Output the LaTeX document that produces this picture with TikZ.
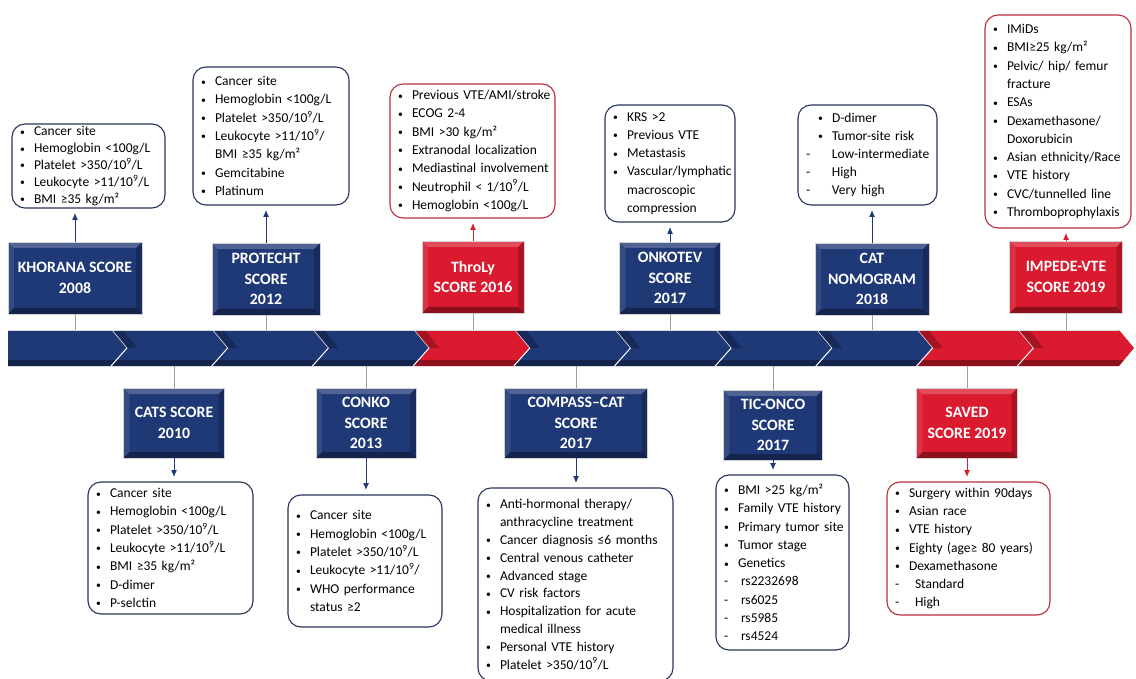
\documentclass[tikz,border=0pt]{standalone}
\usepackage{fontspec}
\usepackage{graphicx}
\setmainfont{Carlito}
\usetikzlibrary{calc,arrows.meta}
\definecolor{navy}{RGB}{31,56,118}
\definecolor{tred}{RGB}{218,26,46}
\definecolor{bnavy}{RGB}{40,52,90}
\definecolor{bred}{RGB}{185,45,60}
\definecolor{cgrey}{RGB}{160,160,160}
\newcommand\smb{\raisebox{0.6pt}{\scalebox{0.72}{\textbullet}}}
\newcommand\bi[1]{\mbox{\makebox[14pt][l]{\smb}#1}}
\newcommand\ci[1]{\mbox{\hspace*{14pt}#1}}
\newcommand\di[2][14]{\mbox{\makebox[#1pt][l]{-}#2}}
\newcommand\nn{10\textsuperscript{9}}
\newcommand\lbox[7]{%
 \pgfmathsetmacro\bw{#4-#2}\pgfmathsetmacro\bh{#5-#3}\pgfmathsetmacro\tw{#4-#2-16}%
 \node[#6, anchor=north west, minimum width=\bw pt, minimum height=\bh pt, text width=\tw pt] (#1) at (#2,#3) {#7};}
\newcommand\tbox[7]{%
 \node[title, fill=#6, minimum width=#4pt, minimum height=#5pt] (#1) at (#2,#3) {#7};
 \fill[white,opacity=.22] (#1.north west) -- (#1.north east) -- ($(#1.north east)+(-6,6)$) -- ($(#1.north west)+(6,6)$) -- cycle;
 \fill[white,opacity=.10] (#1.north west) -- ($(#1.north west)+(6,6)$) -- ($(#1.south west)+(6,-6)$) -- (#1.south west) -- cycle;
 \fill[black,opacity=.22] (#1.north east) -- (#1.south east) -- ($(#1.south east)+(-6,-6)$) -- ($(#1.north east)+(-6,6)$) -- cycle;
 \fill[black,opacity=.35] (#1.south west) -- (#1.south east) -- ($(#1.south east)+(-6,-6)$) -- ($(#1.south west)+(6,-6)$) -- cycle;
 \draw[white!65!gray, line width=.6pt] (#1.north west) rectangle (#1.south east);}
\begin{document}
\begin{tikzpicture}[x=1pt,y=-1pt,
 title/.style={text=white, font=\bfseries\fontsize{15.8}{20.5}\selectfont, align=center, inner sep=0pt, outer sep=0pt},
 lst/.style={draw=bnavy, line width=1.1pt, rounded corners=13pt, fill=white, align=left, inner xsep=8pt, inner ysep=0pt, outer sep=0pt, font=\fontsize{13.5}{18.3}\selectfont},
 lstr/.style={lst, draw=bred},
 conn/.style={draw=cgrey, line width=1pt},
 arrn/.style={draw=navy, line width=1pt, -{Latex[length=7pt,width=6pt]}, shorten >=5pt},
 arrr/.style={arrn, draw=tred}]
\fill[white] (0,0) rectangle (1136,679);
\useasboundingbox (0,0) rectangle (1136,679);
% ---------- timeline bar
\coordinate (bartop) at (0,330);
\coordinate (barbot) at (0,366);
\fill[navy] (8,330) -- (112,330) -- (127,348) -- (112,366) -- (8,366) -- cycle;
\fill[black,opacity=.35] (8,360) -- (117,360) -- (112,366) -- (8,366) -- cycle;
\foreach \k/\c in {1/navy,2/navy,3/navy,4/tred,5/navy,6/navy,7/navy,8/navy,9/tred,10/tred}{
  \pgfmathsetmacro\R{127+100.7*\k}
  \pgfmathsetmacro\L{\R-100.7}
  \fill[\c] (\L-15,330) -- (\R-15,330) -- (\R,348) -- (\R-15,366) -- (\L-15,366) -- (\L,348) -- cycle;
  \fill[black,opacity=.35] (\L-10,360) -- (\R-10,360) -- (\R-15,366) -- (\L-15,366) -- cycle;
  \fill[black,opacity=.25] (\L-15,330) -- (\L,348) -- (\L+10,348) -- (\L-4,330) -- cycle;
  \draw[white, line width=1pt] (\L,348) -- (\L-16,366);
  \draw[white!75!gray, line width=.6pt] (\L-15,330) -- (\L,348);
}
\draw[white!70!gray, line width=.6pt] (8,330) -- (1119,330);
% ---------- title boxes (top)
\tbox{kh}{75}{278}{134}{72}{navy}{KHORANA SCORE\\2008}
\tbox{pr}{266}{279}{108}{72}{navy}{PROTECHT\\SCORE\\2012}
\tbox{th}{473}{277}{102}{72}{tred}{ThroLy\\SCORE 2016}
\tbox{on}{670}{278}{101}{72}{navy}{ONKOTEV\\SCORE\\2017}
\tbox{cat}{872}{279}{114}{72}{navy}{CAT\\NOMOGRAM\\2018}
\tbox{im}{1066}{277}{113}{72}{tred}{IMPEDE-VTE\\SCORE 2019}
% ---------- title boxes (bottom)
\tbox{cats}{174}{423}{101}{70}{navy}{CATS SCORE\\2010}
\tbox{conko}{366}{423}{100}{70}{navy}{CONKO\\SCORE\\2013}
\tbox{comp}{576}{423}{143}{70}{navy}{COMPASS–CAT\\SCORE\\2017}
\tbox{tic}{773}{425}{99}{70}{navy}{TIC-ONCO\\SCORE\\2017}
\tbox{saved}{967}{423}{101}{70}{tred}{SAVED\\SCORE 2019}
% ---------- list boxes (top)
\lbox{khl}{12}{124}{165}{208}{lst, font=\fontsize{13.5}{16.8}\selectfont}{\bi{Cancer site}\\\bi{Hemoglobin <100g/L}\\\bi{Platelet >350/\nn/L}\\\bi{Leukocyte >11/\nn/L}\\\bi{BMI ≥35 kg/m²}}
\lbox{prl}{193}{67}{349}{205}{lst}{\bi{Cancer site}\\\bi{Hemoglobin <100g/L}\\\bi{Platelet >350/\nn/L}\\\bi{Leukocyte >11/\nn/}\\\ci{BMI ≥35 kg/m²}\\\bi{Gemcitabine}\\\bi{Platinum}}
\lbox{thl}{390}{84}{555}{218}{lstr}{\bi{Previous VTE/AMI/stroke}\\\bi{ECOG 2-4}\\\bi{BMI >30 kg/m²}\\\bi{Extranodal localization}\\\bi{Mediastinal involvement}\\\bi{Neutrophil < 1/\nn/L}\\\bi{Hemoglobin <100g/L}}
\lbox{onl}{605}{105}{735}{222}{lst}{\bi{KRS >2}\\\bi{Previous VTE}\\\bi{Metastasis}\\\bi{Vascular/lymphatic}\\\ci{macroscopic}\\\ci{compression}}
\lbox{catl}{798}{105}{937}{205}{lst, font=\fontsize{13.5}{18}\selectfont}{\mbox{\hspace*{12pt}}\bi{D-dimer}\\\mbox{\hspace*{12pt}}\bi{Tumor-site risk}\\\di[26]{Low-intermediate}\\\di[26]{High}\\\di[26]{Very high}}
\lbox{iml}{985}{15}{1131}{228}{lstr}{\bi{IMiDs}\\\bi{BMI≥25 kg/m²}\\\bi{Pelvic/ hip/ femur}\\\ci{fracture}\\\bi{ESAs}\\\bi{Dexamethasone/}\\\ci{Doxorubicin}\\\bi{Asian ethnicity/Race}\\\bi{VTE history}\\\bi{CVC/tunnelled line}\\\bi{Thromboprophylaxis}}
% ---------- list boxes (bottom)
\lbox{catsl}{88}{482}{253}{614}{lst}{\bi{Cancer site}\\\bi{Hemoglobin <100g/L}\\\bi{Platelet >350/\nn/L}\\\bi{Leukocyte >11/\nn/L}\\\bi{BMI ≥35 kg/m²}\\\bi{D-dimer}\\\bi{P-selctin}}
\lbox{conkol}{288}{495}{442}{627}{lst}{\bi{Cancer site}\\\bi{Hemoglobin <100g/L}\\\bi{Platelet >350/\nn/L}\\\bi{Leukocyte >11/\nn/}\\\bi{WHO performance}\\\ci{status ≥2}}
\lbox{compl}{478}{488}{673}{681}{lst, font=\fontsize{13.5}{17.8}\selectfont}{\bi{Anti-hormonal therapy/}\\\ci{anthracycline treatment}\\\bi{Cancer diagnosis ≤6 months}\\\bi{Central venous catheter}\\\bi{Advanced stage}\\\bi{CV risk factors}\\\bi{Hospitalization for acute}\\\ci{medical illness}\\\bi{Personal VTE history}\\\bi{Platelet >350/\nn/L}}
\lbox{ticl}{716}{475}{849}{650}{lst, inner xsep=6pt}{\bi{BMI >25 kg/m²}\\\bi{Family VTE history}\\\bi{Primary tumor site}\\\bi{Tumor stage}\\\bi{Genetics}\\\di[17]{rs2232698}\\\di[17]{rs6025}\\\di[17]{rs5985}\\\di[17]{rs4524}}
\lbox{savedl}{887}{482}{1050}{615}{lstr}{\bi{Surgery within 90days}\\\bi{Asian race}\\\bi{VTE history}\\\bi{Eighty (age≥ 80 years)}\\\bi{Dexamethasone}\\\di[20]{Standard}\\\di[20]{High}}
% ---------- connectors bar - title
\foreach \n in {kh,pr,th,on,cat,im}{\draw[conn] (\n.south) -- (\n.south |- bartop);}
\foreach \n in {cats,conko,comp,tic,saved}{\draw[conn] (\n.north) -- (\n.north |- barbot);}
% ---------- arrows title - list
\draw[arrn] (kh.north) -- (kh.north |- khl.south);
\draw[arrn] (pr.north) -- (pr.north |- prl.south);
\draw[arrr] (th.north) -- (th.north |- thl.south);
\draw[arrn] (on.north) -- (on.north |- onl.south);
\draw[arrn] (cat.north) -- (cat.north |- catl.south);
\draw[arrr] (im.north) -- (im.north |- iml.south);
\draw[arrn] (cats.south) -- (cats.south |- catsl.north);
\draw[arrn] (conko.south) -- (conko.south |- conkol.north);
\draw[arrn] (comp.south) -- (comp.south |- compl.north);
\draw[arrn] (tic.south) -- (tic.south |- ticl.north);
\draw[arrr] (saved.south) -- (saved.south |- savedl.north);
\end{tikzpicture}
\end{document}
